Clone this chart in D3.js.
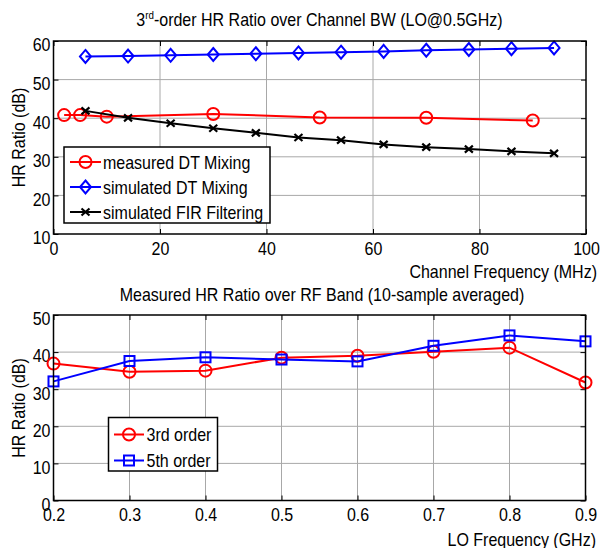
<!DOCTYPE html>
<html><head><meta charset="utf-8">
<script src="https://cdn.jsdelivr.net/npm/d3@7"></script>
<style>body{margin:0;background:#fff}svg{display:block}</style>
</head><body>
<script>
// ---- data ----
const measX = [2, 5, 10, 30, 50, 70, 90];
const measDT = [40.8, 40.8, 40.4, 41.1, 40.2, 40.1, 39.4];
const simX = [6, 14, 22, 30, 38, 46, 54, 62, 70, 78, 86, 94];
const simDT = [56.0, 56.1, 56.3, 56.5, 56.7, 56.9, 57.1, 57.3, 57.6, 57.8, 58.0, 58.2];
const simFIR = [41.9, 40.1, 38.7, 37.4, 36.2, 35.0, 34.3, 33.2, 32.5, 32.0, 31.4, 30.9];
const topXTicks = [0, 20, 40, 60, 80, 100];
const topYTicks = [10, 20, 30, 40, 50, 60];
const loFreq = [0.2, 0.3, 0.4, 0.5, 0.6, 0.7, 0.8, 0.9];
const hr3 = [36.9, 34.7, 35.0, 38.5, 39.0, 40.1, 41.2, 31.8];
const hr5 = [32.1, 37.6, 38.6, 38.0, 37.5, 41.7, 44.5, 42.9];
const botXTicks = [0.2, 0.3, 0.4, 0.5, 0.6, 0.7, 0.8, 0.9];
const botYTicks = [0, 10, 20, 30, 40, 50];

const W = 600, H = 548, SX = 0.89, FS = 18, FF = "'Liberation Sans', Arial, sans-serif";
const svg = d3.select("body").append("svg").attr("width", W).attr("height", H);

function label(x, y, str, anchor, rot) {
  const t = svg.append("text")
    .attr("transform", `translate(${x},${y})` + (rot ? ` rotate(${rot})` : "") + ` scale(${SX},1)`)
    .attr("text-anchor", anchor).attr("font-family", FF).attr("font-size", FS).attr("fill", "#000");
  if (str) t.text(str);
  return t;
}

function marker(g, type, x, y, color) {
  if (type === "o") g.append("circle").attr("cx", x).attr("cy", y).attr("r", 6)
    .attr("fill", "none").attr("stroke", color).attr("stroke-width", 2);
  else if (type === "d") g.append("path").attr("d", `M${x},${y-6.5}L${x+5.5},${y}L${x},${y+6.5}L${x-5.5},${y}Z`)
    .attr("fill", "none").attr("stroke", color).attr("stroke-width", 2);
  else if (type === "s") g.append("rect").attr("x", x-5).attr("y", y-5).attr("width", 10).attr("height", 10)
    .attr("fill", "none").attr("stroke", color).attr("stroke-width", 2);
  else if (type === "x") g.append("path").attr("d", `M${x-4},${y-3.5}L${x+4},${y+3.5}M${x-4},${y+3.5}L${x+4},${y-3.5}`)
    .attr("stroke", color).attr("stroke-width", 2.2);
}

function panel(cfg) {
  const x = d3.scaleLinear().domain(cfg.xd).range([cfg.l, cfg.r]);
  const y = d3.scaleLinear().domain(cfg.yd).range([cfg.b, cfg.t]);
  const g = svg.append("g");
  // grid
  g.append("g").selectAll("line").data(cfg.xt.slice(1, -1)).join("line")
    .attr("x1", d => x(d)).attr("x2", d => x(d)).attr("y1", cfg.t).attr("y2", cfg.b)
    .attr("stroke", "#a8a8a8").attr("stroke-width", 1);
  g.append("g").selectAll("line").data(cfg.yt.slice(1, -1)).join("line")
    .attr("y1", d => y(d)).attr("y2", d => y(d)).attr("x1", cfg.l).attr("x2", cfg.r)
    .attr("stroke", "#a8a8a8").attr("stroke-width", 1);
  // axes
  const ax = g.append("g").attr("transform", `translate(0,${cfg.b})`)
    .call(d3.axisBottom(x).tickValues(cfg.xt).tickFormat(cfg.xf).tickSizeInner(-5).tickSizeOuter(0));
  const ay = g.append("g").attr("transform", `translate(${cfg.l},0)`)
    .call(d3.axisLeft(y).tickValues(cfg.yt).tickFormat(d3.format("d")).tickSizeInner(-5).tickSizeOuter(0));
  g.append("g").attr("transform", `translate(0,${cfg.t})`)
    .call(d3.axisTop(x).tickValues(cfg.xt).tickFormat("").tickSizeInner(-5).tickSizeOuter(0));
  g.append("g").attr("transform", `translate(${cfg.r},0)`)
    .call(d3.axisRight(y).tickValues(cfg.yt).tickFormat("").tickSizeInner(-5).tickSizeOuter(0));
  g.selectAll(".domain").remove();
  g.selectAll(".tick line").attr("stroke", "#000");
  ax.selectAll("text").attr("y", 21).attr("dy", 0).attr("font-size", FS).attr("font-family", FF)
    .attr("transform", `scale(${SX},1)`).attr("fill", "#000");
  ay.selectAll("text").attr("x", -3 / SX).attr("dy", "0.35em").attr("y", 3.5).attr("font-size", FS)
    .attr("font-family", FF).attr("transform", `scale(${SX},1)`).attr("fill", "#000");
  // series
  cfg.series.forEach(s => {
    const pts = s.xs.map((v, i) => [x(v), y(s.ys[i])]);
    g.append("path").attr("d", d3.line()(pts)).attr("fill", "none")
      .attr("stroke", s.color).attr("stroke-width", 2);
    pts.forEach(p => marker(g, s.m, p[0], p[1], s.color));
  });
  // frame
  g.append("rect").attr("x", cfg.l).attr("y", cfg.t).attr("width", cfg.r - cfg.l).attr("height", cfg.b - cfg.t)
    .attr("fill", "none").attr("stroke", "#000").attr("stroke-width", 1.5);
  // legend
  const L = cfg.leg;
  const lg = svg.append("g");
  lg.append("rect").attr("x", L.x).attr("y", L.y).attr("width", L.w).attr("height", L.h)
    .attr("fill", "#fff").attr("stroke", "#000").attr("stroke-width", 1.5);
  cfg.series.forEach((s, i) => {
    const yy = L.y0 + i * L.dy;
    lg.append("line").attr("x1", L.lx0).attr("x2", L.lx1).attr("y1", yy).attr("y2", yy)
      .attr("stroke", s.color).attr("stroke-width", 2);
    marker(lg, s.m, (L.lx0 + L.lx1) / 2, yy, s.color);
    label(L.tx, yy + 6.5, s.name, "start");
  });
  return { x, y };
}

panel({
  l: 53.5, r: 586, t: 41, b: 234, xd: [0, 100], yd: [10, 60], xt: topXTicks, yt: topYTicks,
  xf: d3.format("d"),
  series: [
    { name: "measured DT Mixing", xs: measX, ys: measDT, color: "#ff0000", m: "o" },
    { name: "simulated DT Mixing", xs: simX, ys: simDT, color: "#0000ff", m: "d" },
    { name: "simulated FIR Filtering", xs: simX, ys: simFIR, color: "#000000", m: "x" }
  ],
  leg: { x: 64, y: 147, w: 206, h: 76, y0: 162, dy: 25, lx0: 70, lx1: 101, tx: 103 }
});

panel({
  l: 53.5, r: 585.5, t: 315, b: 500.5, xd: [0.2, 0.9], yd: [0, 50], xt: botXTicks, yt: botYTicks,
  xf: d3.format(".1f"),
  series: [
    { name: "3rd order", xs: loFreq, ys: hr3, color: "#ff0000", m: "o" },
    { name: "5th order", xs: loFreq, ys: hr5, color: "#0000ff", m: "s" }
  ],
  leg: { x: 108.5, y: 417.5, w: 109, h: 53.5, y0: 434.5, dy: 26, lx0: 114, lx1: 144, tx: 146.5 }
});

// titles and axis labels
const t1 = label(319.5, 26, null, "middle");
t1.append("tspan").text("3");
t1.append("tspan").attr("font-size", 11).attr("dy", -7).text("rd");
t1.append("tspan").attr("dy", 7).text("-order HR Ratio over Channel BW (LO@0.5GHz)");
label(322, 300.5, "Measured HR Ratio over RF Band (10-sample averaged)", "middle");
label(597, 278, "Channel Frequency (MHz)", "end");
label(596, 546, "LO Frequency (GHz)", "end");
label(25, 137.5, "HR Ratio (dB)", "middle", -90);
label(25, 408, "HR Ratio (dB)", "middle", -90);
</script>
</body></html>
